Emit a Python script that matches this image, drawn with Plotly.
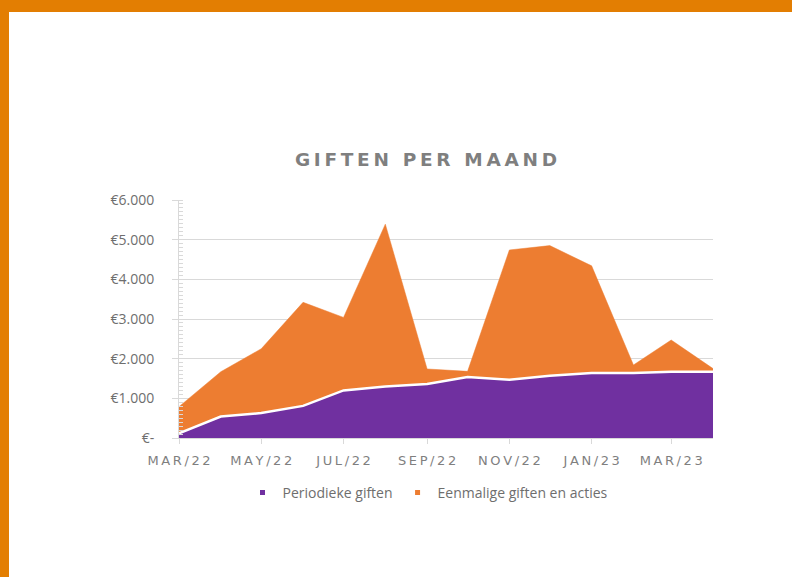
import plotly.graph_objects as go

# ---------------- data ----------------
months = ["2022-03-01", "2022-04-01", "2022-05-01", "2022-06-01", "2022-07-01",
          "2022-08-01", "2022-09-01", "2022-10-01", "2022-11-01", "2022-12-01",
          "2023-01-01", "2023-02-01", "2023-03-01", "2023-04-01"]
periodieke = [120, 540, 630, 810, 1200, 1300, 1360, 1540, 1470, 1570, 1640, 1640, 1670, 1670]
eenmalige = [670, 1130, 1620, 2610, 1840, 4090, 380, 140, 3270, 3280, 2700, 200, 800, 80]

x_tick_vals = ["2022-03-01", "2022-05-01", "2022-07-01", "2022-09-01",
               "2022-11-01", "2023-01-01", "2023-03-01"]
x_tick_labels = ["MAR/22", "MAY/22", "JUL/22", "SEP/22", "NOV/22", "JAN/23", "MAR/23"]
y_tick_vals = [0, 1000, 2000, 3000, 4000, 5000, 6000]
y_tick_labels = ["€-", "€1.000", "€2.000", "€3.000", "€4.000", "€5.000", "€6.000"]

series_names = ["Periodieke giften", "Eenmalige giften en acties"]
title_text = "GIFTEN PER MAAND"

# ---------------- style ----------------
PURPLE = "#7030A0"
ORANGE = "#ED7D31"
BORDER = "#E37E02"
GRID = "#D9D9D9"
W, H = 792, 577
L, R, T, B = 179, 79, 200, 139
PW, PH = W - L - R, H - T - B

THIN = "\u2009"
def spaced(s):
    return THIN.join(list(s))

fig = go.Figure()
fig.add_trace(go.Scatter(
    x=months, y=periodieke, name=series_names[0], stackgroup="one",
    mode="lines", line=dict(color="white", width=2.5, shape="linear"),
    fillcolor=PURPLE, showlegend=False))
fig.add_trace(go.Scatter(
    x=months, y=eenmalige, name=series_names[1], stackgroup="one",
    mode="lines", line=dict(color=ORANGE, width=0.5, shape="linear"),
    fillcolor=ORANGE, showlegend=False))

# legend entries (small square markers like the original)
fig.add_trace(go.Scatter(x=[None], y=[None], mode="markers", name=series_names[0],
                         marker=dict(color=PURPLE, size=5, symbol="square")))
fig.add_trace(go.Scatter(x=[None], y=[None], mode="markers", name=series_names[1],
                         marker=dict(color=ORANGE, size=5, symbol="square")))

def px_x(p):
    return (p - L) / PW

def px_y(p):
    return (H - B - p) / PH

shapes = [
    dict(type="rect", xref="paper", yref="paper", layer="above",
         x0=px_x(0), x1=px_x(W), y0=px_y(12), y1=px_y(0),
         fillcolor=BORDER, line=dict(width=0)),
    dict(type="rect", xref="paper", yref="paper", layer="above",
         x0=px_x(0), x1=px_x(9), y0=px_y(H), y1=px_y(0),
         fillcolor=BORDER, line=dict(width=0)),
]

fig.update_layout(
    width=W, height=H,
    margin=dict(l=L, r=R, t=T, b=B, pad=0),
    paper_bgcolor="white", plot_bgcolor="white",
    title=dict(text=spaced(title_text), x=426 / W, xanchor="center",
               y=1 - 160 / H, yanchor="middle",
               font=dict(family="DejaVu Sans", size=18.5, color="#7F7F7F", weight="bold")),
    xaxis=dict(type="date", range=["2022-03-01", "2023-04-01"],
               tickvals=x_tick_vals, ticktext=[spaced(t) for t in x_tick_labels],
               tickfont=dict(family="DejaVu Sans", size=13, color="#7F7F7F"),
               ticklabelstandoff=5,
               showgrid=False, showline=True, linecolor=GRID, linewidth=1,
               ticks="outside", ticklen=5, tickcolor=GRID, zeroline=False,
               fixedrange=True),
    yaxis=dict(range=[0, 6000], tickvals=y_tick_vals, ticktext=y_tick_labels,
               tickfont=dict(family="Open Sans", size=14, color="#6E6E6E"),
               ticklabelstandoff=15,
               showgrid=True, gridcolor=GRID, gridwidth=1,
               showline=True, linecolor=GRID, linewidth=1,
               ticks="outside", ticklen=6, tickcolor=GRID, zeroline=False,
               minor=dict(dtick=100, ticks="inside", ticklen=4, tickcolor=GRID, showgrid=False),
               fixedrange=True),
    legend=dict(orientation="h", x=px_x(428), xanchor="center",
                y=px_y(493), yanchor="middle", traceorder="normal",
                font=dict(family="Open Sans", size=14, color="#6E6E6E"),
                itemwidth=30, bgcolor="rgba(0,0,0,0)"),
    shapes=shapes,
    hovermode=False,
)

fig.write_html("out.html", config={"displayModeBar": False},
               post_script="document.body.style.margin='0';document.body.style.overflow='hidden';")
